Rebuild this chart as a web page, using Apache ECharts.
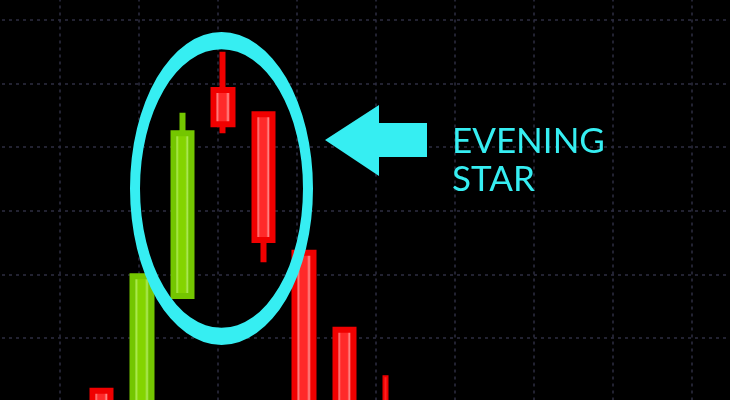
<!DOCTYPE html>
<html>
<head>
<meta charset="utf-8">
<script src="https://cdn.jsdelivr.net/npm/echarts@6/dist/echarts.min.js"></script>
<style>
html,body{margin:0;padding:0;background:#000;}
#chart{width:730px;height:400px;}
</style>
</head>
<body>
<div id="chart"></div>
<script>
// ---- data ----
var categories = ['1','2','3','4','5','6','7','8','9','10','11','12','13','14','15','16','17','18'];
var openVals  = ['-','-',11.7, 0.0, 26.6, 59.0, 55.2, 33.4, 21.3,'-','-','-','-','-','-','-','-','-'];
var closeVals = ['-','-', 0.0,29.7, 52.2, 53.6, 35.4,  0.0,  0.0,'-','-','-','-','-','-','-','-','-'];
var lowVals   = ['-','-', 0.0, 0.0, 26.6, 52.2, 31.9,  0.0,  0.0,'-','-','-','-','-','-','-','-','-'];
var highVals  = ['-','-',11.7,29.7, 55.4, 65.0, 55.2, 33.4, 21.3,'-','-','-','-','-','-','-','-','-'];
// small distant candle
var smallOpen  = ['-','-','-','-','-','-','-','-','-',14.0,'-','-','-','-','-','-','-','-'];
var smallClose = ['-','-','-','-','-','-','-','-','-', 0.0,'-','-','-','-','-','-','-','-'];
var titleLines = ['EVENING', 'STAR'];

function build(o, c, l, h) {
  return o.map(function (v, i) {
    if (v === '-') return ['-', '-', '-', '-'];
    return [v, c[i], l[i], h[i]];
  });
}
var mainData = build(openVals, closeVals, lowVals, highVals);
var smallData = build(smallOpen, smallClose, smallClose, smallOpen);

function grad(stops) {
  return {type: 'linear', x: 0, y: 0, x2: 1, y2: 0,
    colorStops: stops.map(function (s) { return {offset: s[0], color: s[1]}; })};
}
var redGrad = grad([[0,'#e00000'],[0.15,'#ff2020'],[0.25,'#ff9a9a'],[0.35,'#ff2a2a'],[0.62,'#ff2a2a'],[0.7,'#ff8a8a'],[0.8,'#ff1a1a'],[1,'#d00000']]);
var greenGrad = grad([[0,'#70c000'],[0.15,'#80d000'],[0.25,'#b8f268'],[0.35,'#84d400'],[0.62,'#84d400'],[0.7,'#ace858'],[0.8,'#7acb00'],[1,'#68b400']]);

var dash = {color: '#2e2e42', width: 1.5, type: [3, 4]};
var CY = '#36eef2';

var chart = echarts.init(document.getElementById('chart'), null, {renderer: 'canvas'});
chart.setOption({
  backgroundColor: '#000000',
  animation: false,
  grid: [
    {left: -19, width: 790, top: -43.6, height: 508.8, show: false, outerBoundsMode: 'none', containLabel: false},
    {left: 0, width: 730, top: -43.6, height: 508.8, show: false, outerBoundsMode: 'none', containLabel: false}
  ],
  xAxis: [
    {type: 'value', gridIndex: 0, min: 0, max: 10, interval: 1,
     axisLine: {show: false}, axisTick: {show: false}, axisLabel: {show: false},
     splitLine: {show: true, lineStyle: dash}},
    {type: 'category', gridIndex: 1, data: categories, boundaryGap: true,
     axisLine: {show: false}, axisTick: {show: false}, axisLabel: {show: false},
     splitLine: {show: false}}
  ],
  yAxis: [
    {type: 'value', gridIndex: 0, min: 0, max: 80, interval: 10,
     axisLine: {show: false}, axisTick: {show: false}, axisLabel: {show: false},
     splitLine: {show: true, lineStyle: dash}},
    {type: 'value', gridIndex: 1, min: 0, max: 80, interval: 10,
     axisLine: {show: false}, axisTick: {show: false}, axisLabel: {show: false},
     splitLine: {show: false}}
  ],
  series: [
    {
      type: 'candlestick', xAxisIndex: 1, yAxisIndex: 1,
      barWidth: 19,
      data: mainData,
      itemStyle: {
        color: greenGrad, color0: redGrad,
        borderColor: '#74c600', borderColor0: '#f00000',
        borderWidth: 6
      }
    },
    {
      type: 'candlestick', xAxisIndex: 1, yAxisIndex: 1,
      barWidth: 4,
      data: smallData,
      itemStyle: {
        color: '#ff2020', color0: '#ff2020',
        borderColor: '#ee0000', borderColor0: '#ee0000',
        borderWidth: 2
      }
    }
  ],
  graphic: [
    {
      type: 'ring', z: 100, x: 221.5, y: 188.5, scaleX: 1, scaleY: 1.71,
      shape: {cx: 0, cy: 0, r: 91.5, r0: 81.5},
      style: {fill: CY}
    },
    {
      type: 'polygon', z: 100,
      shape: {points: [[325,140],[379,105],[379,123],[427,123],[427,157],[379,157],[379,176]]},
      style: {fill: CY}
    },
    {
      type: 'text', z: 100, x: 452, y: 142,
      style: {text: titleLines[0], fill: CY, font: '35px Lato', verticalAlign: 'middle', align: 'left'}
    },
    {
      type: 'text', z: 100, x: 452, y: 180,
      style: {text: titleLines[1], fill: CY, font: '35px Lato', verticalAlign: 'middle', align: 'left'}
    }
  ]
});
</script>
</body>
</html>
